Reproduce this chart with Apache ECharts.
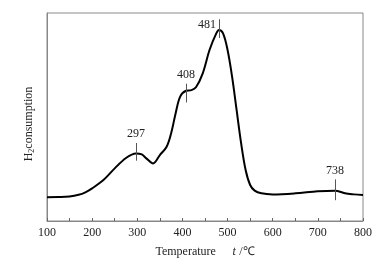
<!DOCTYPE html>
<html>
<head>
<meta charset="utf-8">
<script src="https://cdn.jsdelivr.net/npm/echarts@6/dist/echarts.min.js"></script>
<style>
  html, body { margin: 0; padding: 0; background: #fff; }
  #main { width: 386px; height: 263px; }
</style>
</head>
<body>
<div id="main"></div>
<script>
// TPR curve (arbitrary units, 0-100 = plot height)
var temps  = [100, 125, 150, 170, 185, 200, 225, 250, 275, 297, 310, 320, 335, 350, 365, 375, 385, 395, 408, 420, 430, 445, 460, 475, 481, 490, 500, 510, 520, 530, 540, 550, 560, 575, 600, 650, 700, 738, 760, 780, 800];
var signal = [11.4, 11.5, 11.8, 12.6, 13.8, 15.7, 19.7, 25.3, 30.3, 32.5, 32.0, 30.1, 27.7, 31.7, 35.7, 42.2, 51.8, 59.8, 62.6, 62.9, 64.3, 71.0, 82.2, 90.2, 91.8, 90.2, 82.2, 69.4, 53.4, 37.4, 24.5, 17.3, 14.6, 13.3, 12.8, 13.3, 14.3, 14.6, 13.3, 12.8, 12.5];

// peak markers: temperature, bottom and top of the short tick line
var peakTemps  = [297, 408, 481, 738];
var peakLow    = [29, 57, 88, 10];
var peakHigh   = [37.5, 66, 97, 20];

var xTicks = [100, 200, 300, 400, 500, 600, 700, 800];

var font = 'Liberation Serif';
var curve = temps.map(function (t, i) { return [t, signal[i]]; });

var labelStyle = { show: true, fontFamily: font, fontSize: 12, color: '#222' };
var marks = peakTemps.map(function (t, i) {
  var lab = Object.assign({}, labelStyle, { formatter: String(t), position: 'end', distance: 3 });
  if (t === 481) {
    // 481 sits to the left of its tick
    lab = Object.assign({}, labelStyle, { formatter: String(t), position: 'end',
      distance: [-12, -2], align: 'right', verticalAlign: 'top', offset: [-3, -2] });
  }
  return [{ coord: [t, peakLow[i]] }, { coord: [t, peakHigh[i]], label: lab }];
});

var chart = echarts.init(document.getElementById('main'));
chart.setOption({
  animation: false,
  grid: { left: 47, right: 23, top: 13, bottom: 42, show: true, borderColor: '#888', borderWidth: 1 },
  xAxis: {
    type: 'value', min: xTicks[0], max: xTicks[xTicks.length - 1], interval: 100,
    axisLine: { lineStyle: { color: '#888' } },
    axisTick: { inside: true, length: 3, lineStyle: { color: '#666' } },
    minorTick: { show: true, splitNumber: 2, length: 3, lineStyle: { color: '#666' } },
    splitLine: { show: false },
    axisLabel: { fontFamily: font, fontSize: 12, color: '#222', margin: 6 },
    name: '{a|Temperature}     {i|t} {a|/℃}',
    nameLocation: 'middle', nameGap: 25,
    nameTextStyle: { rich: {
      a: { fontFamily: font, fontSize: 12, color: '#222' },
      i: { fontFamily: font, fontSize: 12, fontStyle: 'italic', color: '#222' }
    } }
  },
  yAxis: {
    type: 'value', min: 0, max: 100,
    axisLine: { show: true, lineStyle: { color: '#888' } },
    axisTick: { show: false }, axisLabel: { show: false }, splitLine: { show: false },
    name: '{a|H}{s|2}{a|consumption}',
    nameLocation: 'middle', nameGap: 11, nameRotate: 90,
    nameTextStyle: { padding: [0, 14, 0, 0], rich: {
      a: { fontFamily: font, fontSize: 12, color: '#222' },
      s: { fontFamily: font, fontSize: 8, color: '#222', verticalAlign: 'bottom', padding: [6, 0, 0, 0] }
    } }
  },
  series: [{
    type: 'line', data: curve, smooth: 0.35, showSymbol: false,
    lineStyle: { color: '#000', width: 2 },
    markLine: {
      silent: true, symbol: 'none',
      lineStyle: { color: '#555', width: 1, type: 'solid' },
      data: marks
    }
  }]
});
</script>
</body>
</html>
